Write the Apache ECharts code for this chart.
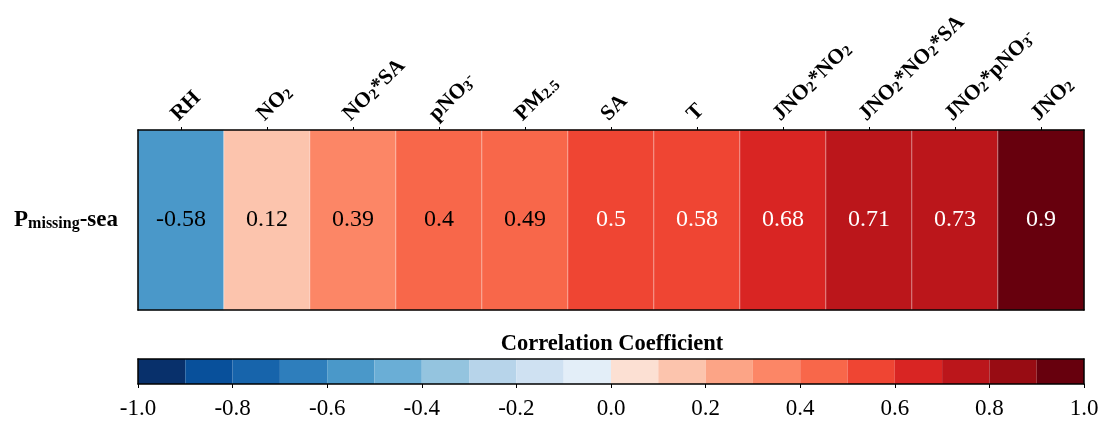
<!DOCTYPE html>
<html>
<head>
<meta charset="utf-8">
<script src="https://cdn.jsdelivr.net/npm/echarts@6/dist/echarts.min.js"></script>
<style>
html, body { margin: 0; padding: 0; background: #fff; }
#main { width: 1102px; height: 421px; }
</style>
</head>
<body>
<div id="main"></div>
<script>
// columns of the strip
var variables = ['RH', 'NO2', 'NO2*SA', 'pNO3-', 'PM2.5', 'SA', 'T', 'JNO2*NO2', 'JNO2*NO2*SA', 'JNO2*pNO3-', 'JNO2'];
var rowName = 'Pmissing-sea';
// correlation of each variable with P_missing-sea
var coefs = [-0.58, 0.12, 0.39, 0.4, 0.49, 0.5, 0.58, 0.68, 0.71, 0.73, 0.9];

// colour bar bins (lower edge) and their colours
var binStarts = [-1.0, -0.9, -0.8, -0.7, -0.6, -0.5, -0.4, -0.3, -0.2, -0.1,
                 0.0, 0.1, 0.2, 0.3, 0.4, 0.5, 0.6, 0.7, 0.8, 0.9];
var binColors = ['#08306b', '#08509b', '#1764ab', '#2e7ebc', '#4a98c9', '#6aaed6', '#94c4df', '#b7d4ea', '#cfe1f2', '#e3eef8',
                 '#fce0d3', '#fcc4ad', '#fca486', '#fc8666', '#f8674a', '#ef4533', '#d92523', '#bb161b', '#980c13', '#67000d'];

var serif = 'Liberation Serif';
var black = '#000';

var binData = binStarts.map(function (s, i) {
  return [s, i < binStarts.length - 1 ? binStarts[i + 1] : 1.0];
});
var pieces = binData.map(function (b, i) {
  var p = { gte: b[0], color: binColors[i] };
  if (i < binData.length - 1) p.lt = b[1]; else p.lte = b[1];
  return p;
});
var cells = coefs.map(function (v, i) { return [i, 0, v]; });

function chemLabel(s) {
  return s.replace(/(\d(\.\d)?)/g, '{sub|$1}').replace(/-$/, '{sup|-}');
}

var myChart = echarts.init(document.getElementById('main'));

var edge = { show: true, onZero: false, lineStyle: { color: black, width: 1.5 } };

myChart.setOption({
  animation: false,
  backgroundColor: '#fff',
  title: {
    text: 'Correlation Coefficient',
    left: 607,
    top: 328,
    textAlign: 'center',
    textStyle: { fontFamily: serif, fontSize: 22.5, fontWeight: 'bold', color: black }
  },
  grid: [
    { left: 138, top: 130, width: 946, height: 180 },
    { left: 138, top: 359, width: 946, height: 25 }
  ],
  xAxis: [
    {
      gridIndex: 0, type: 'category', position: 'top', data: variables, z: 5,
      axisLine: edge,
      axisTick: { show: true, alignWithLabel: true, length: 3, lineStyle: { color: black } },
      axisLabel: {
        rotate: -45, margin: 6, interval: 0,
        padding: [0, 0, 18, 0],
        formatter: chemLabel,
        fontFamily: serif, fontSize: 21.5, fontWeight: 'bold', color: black,
        rich: {
          sub: { fontFamily: serif, fontSize: 15, fontWeight: 'bold', color: black, lineHeight: 13, verticalAlign: 'bottom' },
          sup: { fontFamily: serif, fontSize: 15, fontWeight: 'bold', color: black, lineHeight: 13, verticalAlign: 'top' }
        }
      },
      splitLine: { show: false }
    },
    {
      gridIndex: 0, type: 'category', position: 'bottom', data: variables, z: 5,
      axisLine: edge, axisTick: { show: false }, axisLabel: { show: false }
    },
    {
      gridIndex: 1, type: 'value', position: 'bottom', min: -1, max: 1, interval: 0.2, z: 5,
      axisLine: edge,
      axisTick: { show: true, length: 4, lineStyle: { color: black, width: 1 } },
      axisLabel: {
        margin: 13,
        formatter: function (v) { return v.toFixed(1); },
        fontFamily: serif, fontSize: 23, color: black
      },
      splitLine: { show: false }
    },
    {
      gridIndex: 1, type: 'value', position: 'top', min: -1, max: 1, z: 5,
      axisLine: edge, axisTick: { show: false }, axisLabel: { show: false }, splitLine: { show: false }
    }
  ],
  yAxis: [
    {
      gridIndex: 0, type: 'category', data: [rowName], z: 5,
      axisLine: edge, axisTick: { show: false },
      axisLabel: {
        margin: 20,
        formatter: function (v) { return v.replace(/^P(missing)/, 'P{sub|$1}'); },
        fontFamily: serif, fontSize: 23, fontWeight: 'bold', color: black,
        rich: {
          sub: { fontFamily: serif, fontSize: 16, fontWeight: 'bold', color: black, lineHeight: 14, verticalAlign: 'bottom' }
        }
      }
    },
    {
      gridIndex: 0, type: 'category', position: 'right', data: [rowName], z: 5,
      axisLine: edge, axisTick: { show: false }, axisLabel: { show: false }
    },
    {
      gridIndex: 1, type: 'value', min: 0, max: 1, z: 5,
      axisLine: edge, axisTick: { show: false }, axisLabel: { show: false }, splitLine: { show: false }
    },
    {
      gridIndex: 1, type: 'value', position: 'right', min: 0, max: 1, z: 5,
      axisLine: edge, axisTick: { show: false }, axisLabel: { show: false }, splitLine: { show: false }
    }
  ],
  visualMap: {
    type: 'piecewise', show: false, seriesIndex: 0, dimension: 2,
    pieces: pieces
  },
  series: [
    {
      name: 'coef',
      type: 'heatmap',
      xAxisIndex: 0, yAxisIndex: 0,
      data: cells,
      itemStyle: { borderColor: 'rgba(255,255,255,0.45)', borderWidth: 1 },
      label: {
        show: true,
        formatter: function (p) {
          var v = p.value[2];
          return (v >= 0.5 ? '{w|' : '{k|') + v + '}';
        },
        rich: {
          k: { fontFamily: serif, fontSize: 24, color: black },
          w: { fontFamily: serif, fontSize: 24, color: '#fff' }
        }
      },
      emphasis: { disabled: true }
    },
    {
      name: 'colorbar',
      type: 'custom',
      xAxisIndex: 2, yAxisIndex: 2,
      data: binData,
      renderItem: function (params, api) {
        var p0 = api.coord([api.value(0), 1]);
        var p1 = api.coord([api.value(1), 0]);
        return {
          type: 'rect',
          shape: { x: p0[0], y: p0[1], width: p1[0] - p0[0], height: p1[1] - p0[1] },
          style: { fill: binColors[params.dataIndex] }
        };
      },
      silent: true
    }
  ]
});
</script>
</body>
</html>
